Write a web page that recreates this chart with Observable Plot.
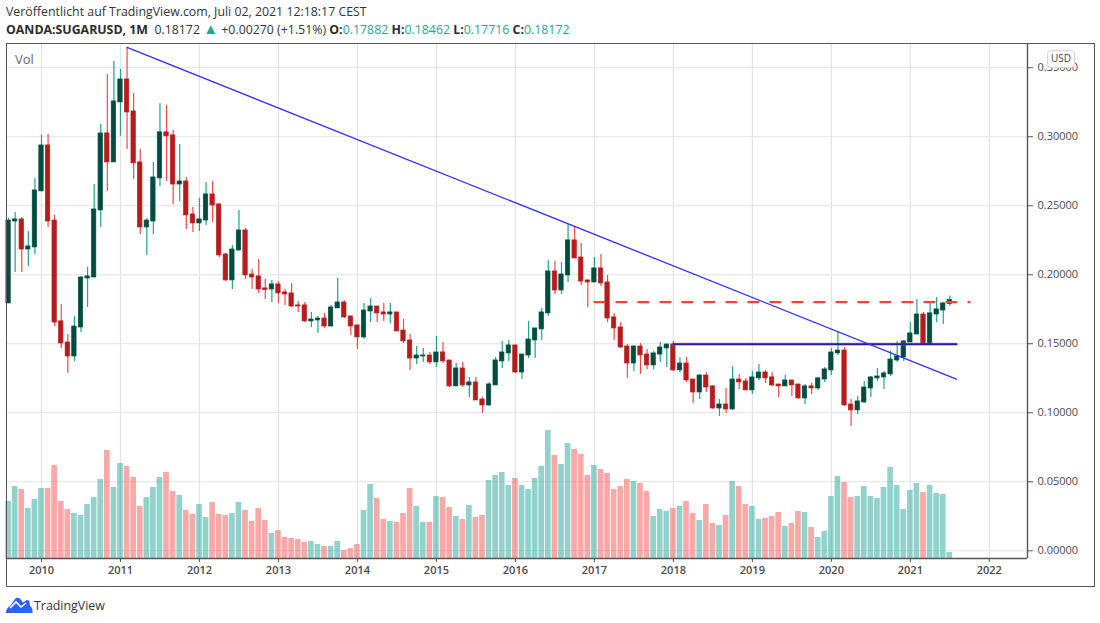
<!DOCTYPE html>
<html lang="de">
<head>
<meta charset="utf-8">
<script src="https://cdn.jsdelivr.net/npm/d3@7"></script>
<script src="https://cdn.jsdelivr.net/npm/@observablehq/plot@0.6"></script>
<style>
html,body{margin:0;padding:0;background:#fff;width:1100px;height:623px;overflow:hidden;font-family:"Open Sans",sans-serif;color:#333}
#l1,#l2,#foot,#usd,#outer,#chart{position:absolute}
#l1{left:6px;top:3px;font-size:12.35px;line-height:18px;white-space:nowrap}
#l2{left:6px;top:21px;font-size:12.35px;line-height:18px;white-space:nowrap}
#l2 b{font-weight:700;color:#2b2b2b}
#l2 .t{color:#26a69a}
#l2 .tri{color:#26a69a;font-size:15px;line-height:12px}
#chart{left:0;top:43px}
#outer{left:6px;top:43px;width:1087px;height:542px;border:1.5px solid #555;pointer-events:none}
#usd{left:1047px;top:50px;width:26px;height:16px;line-height:15px;background:#fff;border:1px solid #d6d6d6;border-radius:4px;font-size:10px;text-align:center;color:#444}
#foot{left:6px;top:596px;height:18px;display:flex;align-items:center;gap:1px;font-size:12.4px;color:#333}
</style>
</head>
<body>
<div id="l1">Veröffentlicht auf TradingView.com, Juli 02, 2021 12:18:17 CEST</div>
<div id="l2"><b>OANDA:SUGARUSD, 1M</b>&nbsp; 0.18172 <span class="tri">▲</span> +0.00270 (+1.51%) <b>O:</b><span class="t">0.17882</span> <b>H:</b><span class="t">0.18462</span> <b>L:</b><span class="t">0.17716</span> <b>C:</b><span class="t">0.18172</span></div>
<div id="chart"></div>
<div id="outer"></div>
<div id="usd">USD</div>
<div id="foot"><svg width="27" height="16" viewBox="0 0 27 16"><path d="M0 16C0 12 2 10 4 9L9 2C10 .5 12 .5 14 1.5L17 5.5L20 3.5C21.500 2.500 23 3.500 23.500 5L24 9C26 10 27 13 26.500 16Z" fill="#2962ff"/><path d="M4 11L10 5L15 10L20 6" fill="none" stroke="#fff" stroke-width="1.6"/></svg><span>TradingView</span></div>
<script>
const firstMonth = -5; // months from January 2010 of the first candle (August 2009)
const open = [.1792,.2386,.2401,.2183,.2198,.2604,.2937,.2393,.1662,.1509,.1408,.1618,.1973,.1980,.2466,.3024,.2814,.3249,.3415,.3183,.2814,.2343,.2386,.2698,.3032,.3010,.2654,.2676,.2437,.2372,.2393,.2582,.2509,.2147,.1959,.2176,.2321,.2002,.1988,.1901,.1893,.1930,.1872,.1865,.1778,.1778,.1662,.1669,.1683,.1625,.1756,.1799,.1698,.1633,.1546,.1734,.1770,.1727,.1712,.1727,.1596,.1524,.1393,.1408,.1415,.1365,.1437,.1379,.1191,.1321,.1198,.1220,.1096,.1053,.1198,.1372,.1430,.1488,.1292,.1415,.1524,.1604,.1720,.2024,.1886,.1995,.2249,.2125,.1959,.1944,.2046,.1944,.1691,.1618,.1480,.1357,.1480,.1422,.1343,.1422,.1466,.1495,.1307,.1357,.1241,.1147,.1270,.1191,.1031,.1060,.1024,.1241,.1227,.1162,.1249,.1292,.1256,.1205,.1191,.1234,.1205,.1104,.1191,.1176,.1241,.1307,.1430,.1451,.1060,.1017,.1075,.1176,.1249,.1256,.1278,.1379,.1401,.1509,.1567,.1712,.1495,.1712,.1741,.1788];
const high = [.2408,.2451,.2415,.2314,.2698,.3010,.3017,.2430,.1785,.1567,.1698,.1988,.2053,.2654,.3089,.3451,.3546,.3488,.3647,.3314,.2908,.2408,.2814,.3241,.3227,.3046,.2944,.2705,.2488,.2553,.2669,.2676,.2517,.2154,.2212,.2466,.2336,.2038,.2111,.1966,.1959,.1951,.1893,.1937,.1807,.1799,.1727,.1698,.1720,.1778,.1973,.1814,.1698,.1633,.1792,.1828,.1770,.1792,.1792,.1727,.1676,.1567,.1480,.1466,.1437,.1553,.1509,.1379,.1357,.1365,.1256,.1256,.1111,.1220,.1401,.1517,.1524,.1488,.1422,.1662,.1611,.1756,.2104,.2096,.2089,.2365,.2350,.2227,.1959,.2125,.2147,.1995,.1720,.1654,.1495,.1488,.1502,.1459,.1444,.1509,.1495,.1517,.1401,.1401,.1241,.1278,.1292,.1198,.1096,.1176,.1336,.1278,.1249,.1299,.1350,.1307,.1292,.1205,.1270,.1234,.1205,.1205,.1212,.1256,.1328,.1466,.1582,.1473,.1096,.1118,.1227,.1263,.1321,.1299,.1444,.1517,.1524,.1654,.1821,.1727,.1792,.1836,.1799,.1846];
const low = [.1792,.2017,.2017,.2060,.2147,.2604,.2343,.1625,.1466,.1285,.1372,.1582,.1763,.1980,.2343,.2604,.2814,.3003,.2908,.2691,.2292,.2140,.2292,.2640,.2676,.2509,.2531,.2328,.2307,.2314,.2357,.2379,.2125,.1951,.1893,.2169,.1966,.1893,.1865,.1821,.1799,.1792,.1778,.1763,.1727,.1654,.1618,.1575,.1611,.1625,.1756,.1683,.1560,.1459,.1531,.1654,.1654,.1662,.1647,.1589,.1502,.1307,.1350,.1365,.1350,.1328,.1357,.1183,.1191,.1183,.1111,.1089,.0995,.1046,.1198,.1321,.1372,.1285,.1241,.1393,.1393,.1524,.1698,.1857,.1857,.1944,.2118,.1923,.1763,.1944,.1915,.1654,.1524,.1466,.1249,.1299,.1278,.1314,.1314,.1365,.1328,.1299,.1292,.1220,.1067,.1096,.1147,.1024,.0973,.0995,.1017,.1169,.1162,.1133,.1234,.1212,.1191,.1111,.1191,.1118,.1096,.1060,.1133,.1162,.1220,.1270,.1415,.1046,.0901,.0988,.1067,.1111,.1227,.1169,.1263,.1365,.1372,.1509,.1567,.1495,.1495,.1654,.1640,.1772];
const close = [.2393,.2401,.2183,.2205,.2611,.2937,.2386,.1654,.1502,.1408,.1625,.1980,.1988,.2473,.3024,.2814,.3256,.3415,.3176,.2807,.2343,.2393,.2705,.3032,.3003,.2654,.2676,.2430,.2372,.2401,.2582,.2502,.2140,.1959,.2183,.2321,.1995,.1980,.1893,.1890,.1930,.1865,.1857,.1770,.1770,.1662,.1676,.1683,.1625,.1763,.1799,.1691,.1625,.1546,.1741,.1770,.1720,.1712,.1727,.1589,.1517,.1393,.1415,.1415,.1365,.1437,.1372,.1191,.1321,.1198,.1220,.1089,.1053,.1205,.1379,.1437,.1488,.1292,.1422,.1531,.1611,.1727,.2024,.1886,.2002,.2249,.2118,.1951,.1944,.2046,.1937,.1683,.1611,.1473,.1357,.1480,.1415,.1343,.1430,.1473,.1495,.1307,.1357,.1234,.1147,.1270,.1183,.1031,.1060,.1024,.1241,.1220,.1162,.1256,.1292,.1249,.1198,.1191,.1234,.1198,.1104,.1191,.1176,.1249,.1314,.1437,.1451,.1053,.1017,.1082,.1183,.1256,.1263,.1285,.1386,.1408,.1517,.1575,.1712,.1495,.1720,.1749,.1792,.1817];
const volume = [57,72,69,50,59,70,70,93,57,49,45,43,54,61,79,108,71,95,92,81,52,61,71,81,86,67,63,48,44,54,41,56,44,43,45,56,48,37,50,38,25,28,21,20,19,16,17,14,12,12,17,8,10,14,48,74,60,39,37,36,45,70,52,36,36,62,61,51,42,39,53,41,43,78,83,86,73,80,73,69,80,92,128,103,94,115,109,104,83,93,89,85,69,72,79,77,75,67,42,49,47,50,52,57,45,38,54,35,33,43,77,72,54,52,39,40,42,46,32,35,47,46,31,21,27,62,82,76,61,62,72,62,60,71,91,73,49,68,75,66,73,65,64,6];

const yearTicks = [2010,2011,2012,2013,2014,2015,2016,2017,2018,2019,2020,2021,2022];
const priceTicks = [0,.05,.1,.15,.2,.25,.3,.35];
const volumeFloor = -0.0056;   // bottom edge of the pane on the price axis
const volumeToPrice = 1 / 1380; // volume pane shares the pane height with the price axis

const downTrend = [{m:13,p:.3647},{m:139,p:.1244}];
const support = [{m:96,p:.1497},{m:139,p:.1497}];
const resistance = [{m:84,p:.1801},{m:141,p:.1801}];

const candles = open.map((o,i)=>({m:i+firstMonth,o,h:high[i],l:low[i],c:close[i],v:volume[i],up:close[i]>=o}));
const xMin=-5.24, xMax=149.8;

const chart = Plot.plot({
  width:1100,height:544,
  marginLeft:6.5,marginRight:73,marginTop:.5,marginBottom:29,
  style:{background:"transparent",fontFamily:'"Open Sans",sans-serif',fontSize:"11px",color:"#4a4a4a"},
  x:{domain:[xMin,xMax]},
  y:{domain:[volumeFloor,.3672]},
  marks:[
    Plot.ruleX(yearTicks,{x:d=>(d-2010)*12,stroke:"#e3e3e3",strokeWidth:1.2}),
    Plot.ruleY(priceTicks,{stroke:"#e3e3e3",strokeWidth:1.2}),
    Plot.rectY(candles,{x1:d=>d.m-.43,x2:d=>d.m+.43,y1:()=>volumeFloor,y2:d=>volumeFloor+d.v*volumeToPrice,
      fill:d=>d.up?"#26a69a":"#ef5350",fillOpacity:.5}),
    Plot.ruleX(candles,{x:"m",y1:"l",y2:"h",stroke:d=>d.up?"#1fa38f":"#ef4a48",strokeWidth:1.2}),
    Plot.rect(candles,{x1:d=>d.m-.33,x2:d=>d.m+.33,y1:"o",y2:"c",
      fill:d=>d.up?"#004d40":"#b71c1c",stroke:d=>d.up?"#004d40":"#b71c1c",strokeWidth:.7}),
    Plot.line(support,{x:"m",y:"p",stroke:"#7e6fc4",strokeOpacity:.45,strokeWidth:3.5}),
    Plot.line(support,{x:"m",y:"p",stroke:"#2e1a96",strokeWidth:1.8}),
    Plot.line(resistance,{x:"m",y:"p",stroke:"#f44336",strokeWidth:2.2,strokeDasharray:"10 12"}),
    Plot.line(downTrend,{x:"m",y:"p",stroke:"#2e2eff",strokeWidth:1.3}),
    Plot.ruleX([xMax],{stroke:"#555",strokeWidth:1.4}),
    Plot.ruleY([volumeFloor],{stroke:"#555",strokeWidth:1.4}),
    Plot.axisY({anchor:"right",ticks:priceTicks,tickFormat:d3.format(".5f"),tickSize:5,tickPadding:5,label:null,fontSize:11,stroke:"#555",fill:"#4a4a4a"}),
    Plot.axisX({ticks:yearTicks.map(d=>(d-2010)*12),tickFormat:d=>String(2010+d/12),tickSize:4,tickPadding:4,label:null,fontSize:11,fontWeight:600,stroke:"#555",fill:"#4a4a4a"}),
    Plot.text(["Vol"],{frameAnchor:"top-left",dx:8,dy:11,fontSize:13,fill:"#666"})
  ]
});
document.getElementById("chart").append(chart);
</script>
</body>
</html>
